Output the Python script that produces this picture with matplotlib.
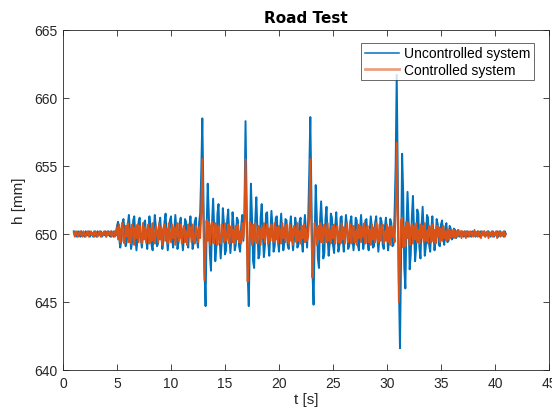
import numpy as np
import matplotlib
matplotlib.use("Agg")
import matplotlib.pyplot as plt

# ---- data ----
t_start = 1.0       # s
t_step = 0.1        # s
h_base = 650.0      # mm, static ride height

# deviation from h_base [mm], one row per second
uncontrolled_dev = [
    0.2, -0.1, 0.1, -0.2, 0.2, 0.0, -0.2, 0.2, -0.1, 0.1,
    -0.2, 0.2, 0.0, -0.1, 0.2, -0.2, 0.1, 0.0, -0.2, 0.2,
    0.1, -0.2, 0.2, -0.1, 0.0, 0.2, -0.2, 0.1, -0.1, 0.2,
    -0.2, 0.1, 0.2, -0.1, -0.2, 0.2, 0.0, -0.2, 0.2, -0.1,
    0.6, 0.9, -0.3, -1.0, -0.5, 0.8, 1.1, 0.2, -0.9, -0.6,
    0.7, 1.4, 0.3, -1.1, -0.6, 1.0, 1.3, -0.2, -1.2, -0.4,
    0.9, 1.2, -0.3, -1.0, -0.2, 0.8, 1.0, -0.4, -1.1, 0.1,
    1.3, 0.6, -0.8, -1.2, 0.2, 1.4, 0.5, -0.9, -0.7, 0.6,
    1.2, -0.1, -1.1, -0.5, 0.9, 1.5, -0.2, -1.2, -0.3, 1.0,
    1.3, -0.4, -1.0, 0.2, 1.4, 0.4, -1.1, -0.6, 0.8, 1.2,
    -0.2, -1.2, -0.3, 1.1, 0.9, -0.7, -1.0, 0.5, 1.3, 0.1,
    -1.1, -0.6, 0.9, 1.2, -0.4, -1.0, 0.8, 1.5, 4.5, 8.5,
    3.0, -2.5, -5.3, 0.5, 3.7, 1.5, -1.5, -2.7, 0.8, 2.6,
    0.5, -2.0, -1.0, 1.5, 2.2, -0.3, -1.8, -0.5, 1.9, 0.8,
    -1.5, -1.2, 1.0, 1.8, -0.2, -1.4, -0.3, 1.6, 0.6, -1.2,
    -0.8, 1.2, 1.0, -0.9, -1.3, 0.6, 1.4, -0.5, 1.5, 8.3,
    2.5, -3.0, -5.3, -0.5, 3.7, 1.2, -2.0, -2.5, 1.0, 2.7,
    0.3, -1.8, -1.5, 1.2, 2.2, 0.0, -1.7, -0.8, 1.5, 1.6,
    -0.6, -1.6, 0.2, 1.7, 0.5, -1.3, -0.9, 1.2, 1.3, -0.5,
    -1.3, 0.3, 1.5, 0.2, -1.2, -0.6, 1.1, 1.0, -0.8, -1.1,
    0.5, 1.3, -0.2, -1.2, -0.3, 1.2, 0.7, -1.0, -0.8, 0.9,
    1.2, -0.5, -1.3, 0.3, 1.4, 0.2, -1.0, 1.0, 4.5, 8.6,
    3.0, -2.8, -5.2, -0.3, 3.6, 1.3, -1.8, -2.5, 0.9, 2.4,
    0.6, -1.8, -1.4, 1.1, 2.0, -0.2, -1.6, -0.6, 1.5, 1.2,
    -0.8, -1.4, 0.5, 1.6, 0.2, -1.3, -0.8, 1.2, 1.3, -0.4,
    -1.3, 0.2, 1.4, 0.6, -1.1, -0.9, 0.9, 1.3, -0.3, -1.2,
    -0.2, 1.2, 1.0, -0.8, -1.2, 0.4, 1.4, 0.1, -1.1, -0.5,
    1.0, 1.1, -0.6, -1.2, 0.3, 1.3, 0.4, -1.0, -0.9, 0.8,
    1.3, -0.2, -1.3, -0.3, 1.2, 0.9, -0.8, -1.1, 0.5, 1.2,
    0.0, -1.2, -0.4, 1.1, 0.8, -0.9, -0.8, 1.5, 5.0, 11.7,
    4.0, -3.5, -8.4, -2.0, 5.9, 3.0, -2.5, -4.0, 0.5, 3.1,
    1.0, -2.6, -1.5, 1.2, 2.8, 0.5, -2.0, -1.0, 1.8, 1.5,
    -1.0, -1.8, 0.6, 2.0, 0.3, -1.6, -0.9, 1.4, 1.2, -0.8,
    -1.3, 0.4, 1.3, 0.0, -1.2, -0.4, 1.1, 0.7, -0.8, -0.9,
    0.7, 1.0, -0.4, -0.8, 0.5, 0.8, -0.6, -0.5, 0.6, 0.4,
    -0.4, -0.3, 0.4, 0.3, -0.3, 0.2, 0.3, -0.2, 0.1, 0.2,
    0.1, -0.2, 0.2, -0.1, 0.2, -0.2, 0.1, 0.0, -0.2, 0.2,
    -0.1, 0.2, -0.2, 0.1, 0.2, -0.1, -0.2, 0.2, 0.0, -0.1,
    0.2, -0.2, 0.1, -0.1, 0.2, 0.0, -0.2, 0.1, 0.2, -0.2,
    0.1, -0.1, 0.2, -0.2, 0.0, 0.2, -0.1, 0.1, -0.2, 0.2,
    0.0,
]

controlled_dev = [
    0.1, -0.2, 0.2, 0.0, -0.2, 0.1, 0.2, -0.1, -0.2, 0.2,
    0.0, -0.2, 0.1, 0.2, -0.2, 0.0, 0.2, -0.1, 0.1, -0.2,
    0.2, 0.0, -0.2, 0.1, 0.2, -0.2, 0.1, -0.1, 0.2, 0.0,
    -0.2, 0.2, -0.1, 0.1, 0.2, -0.2, 0.0, 0.2, -0.2, 0.1,
    0.5, -0.4, 0.7, -0.6, 0.3, 0.8, -0.5, -0.7, 0.6, -0.2,
    0.8, -0.6, 0.4, -0.7, 0.7, 0.2, -0.8, 0.5, -0.3, 0.7,
    -0.6, 0.6, -0.2, -0.7, 0.8, -0.4, 0.5, -0.6, 0.3, 0.7,
    -0.7, 0.4, -0.5, 0.8, -0.2, -0.7, 0.6, 0.2, -0.6, 0.8,
    -0.4, 0.5, -0.8, 0.3, 0.7, -0.5, 0.4, -0.7, 0.8, -0.2,
    -0.6, 0.7, -0.3, 0.5, -0.8, 0.4, 0.8, -0.5, -0.3, 0.7,
    -0.7, 0.3, 0.6, -0.6, 0.2, -0.8, 0.7, -0.2, 0.5, -0.6,
    0.7, -0.4, -0.7, 0.6, 0.2, -0.6, 0.5, -0.3, 1.5, 5.5,
    0.8, -3.4, -1.2, 1.0, -0.5, 0.9, -0.8, 0.6, 0.9, -0.6,
    -0.7, 0.8, 0.3, -0.8, 0.6, -0.4, -0.7, 0.7, 0.2, -0.6,
    0.8, -0.5, -0.3, 0.7, -0.7, 0.4, 0.6, -0.6, 0.3, -0.7,
    0.6, -0.4, 0.7, -0.6, 0.2, -0.7, 0.8, -0.3, 1.0, 5.5,
    0.5, -3.5, -1.5, 0.9, 0.2, -0.8, 0.7, -0.5, 0.8, -0.4,
    -0.7, 0.6, 0.3, -0.8, 0.5, -0.3, 0.8, -0.6, 0.2, 0.7,
    -0.7, 0.4, -0.5, 0.7, -0.2, -0.6, 0.8, -0.4, 0.5, -0.7,
    0.6, 0.2, -0.7, 0.8, -0.3, 0.5, -0.6, 0.7, -0.2, -0.7,
    0.7, -0.5, 0.4, -0.8, 0.6, 0.3, -0.6, 0.8, -0.5, 0.2,
    -0.7, 0.6, -0.3, 0.7, -0.6, 0.4, -0.5, -0.2, 1.2, 5.5,
    0.3, -3.2, -1.3, 0.8, 0.3, -0.8, 0.6, -0.4, 0.8, -0.6,
    0.5, -0.7, 0.7, 0.2, -0.6, 0.8, -0.5, 0.3, -0.7, 0.6,
    -0.3, 0.7, -0.7, 0.4, 0.6, -0.6, 0.2, -0.7, 0.8, -0.4,
    0.5, -0.7, 0.3, 0.8, -0.6, -0.2, 0.7, -0.7, 0.4, 0.6,
    -0.6, 0.2, -0.8, 0.7, -0.3, 0.6, -0.6, 0.5, -0.2, 0.8,
    -0.7, 0.4, 0.6, -0.6, 0.3, -0.8, 0.7, -0.4, 0.5, -0.6,
    0.8, -0.3, -0.6, 0.7, -0.5, 0.4, 0.7, -0.7, 0.2, -0.5,
    0.7, -0.6, 0.5, -0.8, 0.6, -0.2, 0.4, -0.6, 1.5, 6.7,
    1.5, -5.0, -2.0, 1.0, 1.2, -1.0, 0.5, -0.9, 0.9, -0.3,
    0.8, -0.8, 0.4, 0.7, -0.7, 0.6, -0.4, 0.8, -0.6, 0.3,
    -0.7, 0.7, -0.3, 0.6, -0.6, 0.8, -0.5, 0.2, -0.7, 0.6,
    0.4, -0.6, 0.7, -0.5, 0.3, -0.7, 0.6, -0.2, 0.5, -0.6,
    0.4, -0.5, 0.6, -0.3, 0.2, -0.5, 0.4, -0.4, 0.3, -0.3,
    0.3, -0.2, 0.3, -0.3, 0.2, -0.2, 0.3, -0.1, 0.2, -0.3,
    0.2, -0.1, 0.2, -0.3, 0.1, 0.2, -0.2, 0.2, -0.1, 0.1,
    -0.2, 0.3, -0.1, 0.1, -0.2, 0.2, 0.0, -0.3, 0.2, -0.1,
    0.2, -0.2, 0.1, 0.2, -0.3, 0.1, -0.1, 0.2, -0.2, 0.1,
    -0.1, 0.2, -0.3, 0.1, 0.2, -0.2, 0.1, -0.1, 0.2, -0.2,
    0.0,
]

series_labels = ["Uncontrolled system", "Controlled system"]
x_ticks = [0, 5, 10, 15, 20, 25, 30, 35, 40, 45]
y_ticks = [640, 645, 650, 655, 660, 665]

# ---- build series ----
h_unc = h_base + np.array(uncontrolled_dev)
h_ctl = h_base + np.array(controlled_dev)
t_unc = t_start + t_step * np.arange(len(h_unc))
t_ctl = t_start + t_step * np.arange(len(h_ctl))

# ---- styling ----
plt.rcParams["font.family"] = ["Liberation Sans", "DejaVu Sans"]
axis_col = "#262626"
blue = "#0072BD"
orange = "#D95319"

fig = plt.figure(figsize=(5.52, 4.10), dpi=100)
ax = fig.add_axes([63 / 552, 1 - 371 / 410, (549 - 63) / 552, (371 - 31) / 410])

ax.plot(t_unc, h_unc, color=blue, lw=1.4, label=series_labels[0])
ax.plot(t_ctl, h_ctl, color=orange, lw=1.4, label=series_labels[1])

ax.set_xlim(0, 45)
ax.set_ylim(640, 665)
ax.set_xticks(x_ticks)
ax.set_yticks(y_ticks)
ax.tick_params(direction="in", top=True, right=True, length=4, width=0.6,
               colors=axis_col, labelsize=10, pad=4)
for s in ax.spines.values():
    s.set_color(axis_col)
    s.set_linewidth(0.6)

ax.set_title("Road Test", fontsize=11, fontweight="bold",
             family=["DejaVu Sans"], color="black", pad=6)
ax.set_xlabel("t [s]", fontsize=11, color=axis_col, labelpad=2)
ax.set_ylabel("h [mm]", fontsize=11, color=axis_col, labelpad=6)

leg = ax.legend(loc="upper right", bbox_to_anchor=(1 - 15 / 486, 1 - 13 / 340),
                fontsize=10, frameon=True, fancybox=False, borderaxespad=0,
                handlelength=2.45, handletextpad=0.4, borderpad=0.25,
                labelspacing=0.15)
leg.get_frame().set_edgecolor(axis_col)
leg.get_frame().set_linewidth(0.6)
leg_lines = leg.get_lines()
leg_lines[0].set_linewidth(1.1)
leg_lines[1].set_linewidth(2.0)
leg_lines[1].set_alpha(0.55)

fig.savefig("out.png", dpi=100)
